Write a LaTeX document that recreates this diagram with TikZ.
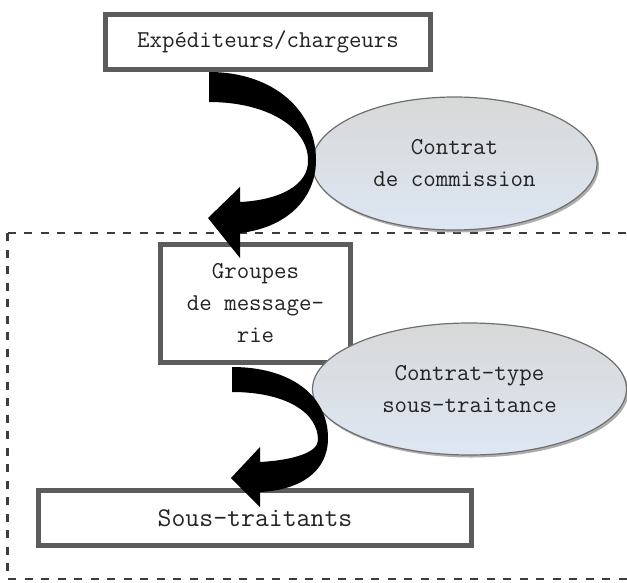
\documentclass[tikz,border=0pt]{standalone}
\usepackage{fontspec}
\usetikzlibrary{shapes.geometric}
\definecolor{boxgray}{RGB}{92,92,92}
\definecolor{dashgray}{RGB}{60,60,60}
\definecolor{elltop}{RGB}{216,216,216}
\definecolor{ellbot}{RGB}{221,231,243}
\definecolor{ellline}{RGB}{110,110,110}
\definecolor{shadowgray}{RGB}{140,140,140}
\definecolor{txt}{RGB}{35,35,35}
\tikzset{
  boxnode/.style={draw=boxgray, line width=5pt, fill=white, inner sep=0pt,
    font=\ttfamily\fontsize{24.2}{32}\selectfont, text=txt, align=center},
  ellnode/.style={ellipse, draw=ellline, line width=1.2pt, inner sep=0pt,
    top color=elltop, bottom color=ellbot,
    font=\ttfamily\fontsize{24.2}{32}\selectfont, text=txt, align=center},
  ellshadow/.style={ellipse, fill=shadowgray, inner sep=0pt, opacity=0.7},
  bigarrow/.style={fill=black, draw=none},
  frame/.style={draw=dashgray, line width=2.2pt, dash pattern=on 8pt off 8.5pt}
}
\begin{document}
\begin{tikzpicture}[x=1pt,y=-1pt]
\useasboundingbox (0,0) rectangle (627,582);
\clip (0,0) rectangle (627,582);
% dashed frame
\draw[frame] (7.5,233) -- (7.5,579) -- (660,579);
\draw[frame] (7.5,233) -- (660,233);
% boxes
\node[boxnode, minimum width=325pt, minimum height=55pt] (box1) at (268,42) {Expéditeurs/chargeurs};
\node[boxnode, minimum width=190pt, minimum height=118pt] (box2) at (255.5,303.5) {Groupes\\de message-\\rie};
\node[boxnode, minimum width=433pt, minimum height=55pt, font=\ttfamily\fontsize{27}{32}\selectfont] (box3) at (255,518) {Sous-traitants};
% ellipses with shadows
\node[ellshadow, minimum width=285pt, minimum height=133pt] at (456.5,166) {};
\node[ellnode, minimum width=285pt, minimum height=133pt] (ell1) at (454.5,163.5) {Contrat\\de commission};
\node[ellshadow, minimum width=314pt, minimum height=132pt] at (471.5,391.5) {};
\node[ellnode, minimum width=314pt, minimum height=132pt] (ell2) at (469.5,389) {Contrat-type\\sous-traitance};
% curved block arrows
\fill[bigarrow] (209,72) .. controls (275,72) and (316,112) .. (316,160)
  .. controls (316,200) and (285,228) .. (240,233)
  -- (240,258) -- (208,218) -- (240,187) -- (240,202)
  .. controls (280,200) and (309,185) .. (308,160)
  .. controls (308,128) and (268,102) .. (209,102) -- cycle;
\fill[bigarrow] (232,367) .. controls (290,367) and (328,395) .. (328,438)
  .. controls (328,472) and (300,490) .. (260,492)
  -- (260,507) -- (231,478) -- (260,447) -- (260,462)
  .. controls (295,460) and (318,452) .. (318,440)
  .. controls (318,412) and (285,392) .. (232,392) -- cycle;
\end{tikzpicture}
\end{document}
